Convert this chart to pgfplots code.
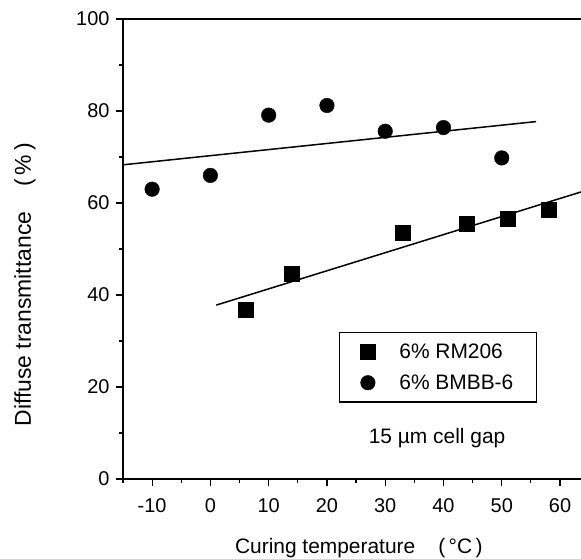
\documentclass[border=0pt]{standalone}
\usepackage{fontspec}
\setmainfont{Liberation Sans}
\usepackage{pgfplots}
\pgfplotsset{compat=1.18}

\newcommand{\lbl}{\fontsize{21}{25}\selectfont}
\newcommand{\tkl}{\fontsize{20}{24}\selectfont}

\begin{document}
\begin{tikzpicture}
\begin{axis}[
  scale only axis,
  width=458bp, height=460bp,
  xmin=-15, xmax=63.6, ymin=0, ymax=100,
  axis x line=box, axis y line=left,
  axis line style={-, line width=1.6bp},
  xtick={-10,0,...,60}, ytick={0,20,...,100},
  minor xtick={-15,-5,...,55}, minor ytick={10,30,...,90},
  xtick pos=left, ytick pos=left,
  tick align=outside,
  major tick length=7bp, minor tick length=4bp,
  every tick/.style={black, line width=1.2bp},
  tick label style={font=\tkl},
  xticklabel style={yshift=-9bp},
  yticklabel style={xshift=-3bp},
  /pgf/number format/assume math mode=true,
  every axis x label/.style={at={(axis description cs:0.515,0)}, anchor=center, yshift=-69bp},
  every axis y label/.style={at={(axis description cs:-0.214,0.422)}, rotate=90, anchor=center},
  xlabel style={font=\lbl},
  ylabel style={font=\fontsize{23}{27}\selectfont},
  xlabel={Curing temperature\hspace{1.1em}(\,°C\,)},
  ylabel={Diffuse transmittance\hspace{1.1em}(\,\%\,)},
  legend style={at={(axis cs:22,32)}, anchor=north west, draw=black, line width=1.6bp,
    font=\lbl, inner xsep=21bp, inner ysep=9bp, row sep=11bp,
    /tikz/every odd column/.append style={column sep=22bp}},
  legend cell align=left,
  clip=false,
]
% 6% RM206
\addplot[only marks, mark=square*, mark size=7.5bp, black, mark options={line width=0.4pt}] coordinates {
  (6,36.7) (14,44.7) (33,53.6) (44,55.6) (51,56.5) (58,58.5)
};
\addlegendentry{6\% RM206}
% 6% BMBB-6
\addplot[only marks, mark=*, mark size=7.3bp, black, mark options={line width=0.4pt}] coordinates {
  (-10,63) (0,66) (10,79.1) (20,81.2) (30,75.6) (40,76.4) (50,69.8)
};
\addlegendentry{6\% BMBB-6}
% fit lines
\addplot[black, line width=1.5bp, forget plot] coordinates {(1,37.8) (63.6,62.4)};
\addplot[black, line width=1.5bp, forget plot] coordinates {(-15,68.3) (55.9,77.7)};
\node[font=\lbl] at (axis cs:38.9,8.9) {15 µm cell gap};
\end{axis}
\pgfresetboundingbox
\useasboundingbox ([xshift=-123bp,yshift=-80bp]current axis.south west) rectangle ([yshift=19bp]current axis.north east);
\end{tikzpicture}
\end{document}
